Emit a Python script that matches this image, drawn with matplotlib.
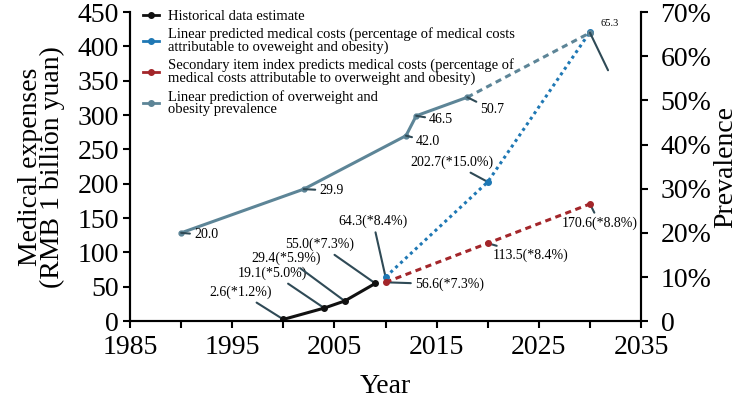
import matplotlib
matplotlib.use("Agg")
import matplotlib.pyplot as plt
from matplotlib.lines import Line2D

plt.rcParams['font.family'] = ['Liberation Serif', 'DejaVu Serif']

# historical estimate (medical costs, RMB 1 billion yuan)
hist_years = [2000, 2004, 2006, 2009]
hist_cost = [2.6, 19.1, 29.4, 55.0]
hist_labels = ["2.6(*1.2%)", "19.1(*5.0%)", "29.4(*5.9%)", "55.0(*7.3%)"]

# linear prediction of medical costs
lin_years = [2010, 2020, 2030]
lin_cost = [64.3, 202.7, 421.0]
lin_labels = ["64.3(*8.4%)", "202.7(*15.0%)", None]

# secondary item index prediction
sec_years = [2010, 2020, 2030]
sec_cost = [56.6, 113.5, 170.6]
sec_labels = ["56.6(*7.3%)", "113.5(*8.4%)", "170.6(*8.8%)"]

# overweight and obesity prevalence (%)
prev_years = [1990, 2002, 2012, 2013, 2018]
prev_vals = [20.0, 29.9, 42.0, 46.5, 50.7]
prev_pred_years = [2018, 2030]
prev_pred_vals = [50.7, 65.3]

c_hist = "#111111"
c_lin = "#1f78b4"
c_sec = "#a3262a"
c_prev = "#5d8597"
c_lead = "#2f4a56"

fig = plt.figure(figsize=(7.56, 4.0), dpi=100)
ax = fig.add_axes([0.172, 0.197, 0.676, 0.773])
ax2 = ax.twinx()

ax.plot(hist_years, hist_cost, color=c_hist, lw=2.2, marker='o', ms=4, zorder=5)
ax.plot(lin_years, lin_cost, color=c_lin, lw=2.2, ls=(0, (1, 1.2)), marker='o', ms=4, zorder=4)
ax.plot(sec_years, sec_cost, color=c_sec, lw=2.2, ls=(0, (2, 1.5)), marker='o', ms=4, zorder=4)

ax2.plot(prev_years, prev_vals, color=c_prev, lw=2.2, marker='o', ms=3.5, zorder=3)
ax2.plot(prev_pred_years, prev_pred_vals, color=c_prev, lw=2.2, ls=(0, (2, 1.5)), zorder=3)
ax2.plot(prev_pred_years[-1:], prev_pred_vals[-1:], color=c_prev, marker='o', ms=4, zorder=3)

ann_kw = dict(textcoords='offset points', fontsize=10, ha='center', va='center',
              arrowprops=dict(arrowstyle='-', color=c_lead, lw=1.5, shrinkA=1, shrinkB=0))

hist_off = [(-31, 19.5), (-37, 25), (-42, 31), (-40, 28)]
for x, y, t, o in zip(hist_years, hist_cost, hist_labels, hist_off):
    ax.annotate(t, (x, y), xytext=o, **ann_kw)

lin_off = [(-9, 40), (-26, 14), None]
for x, y, t, o in zip(lin_years, lin_cost, lin_labels, lin_off):
    if t:
        ax.annotate(t, (x, y), xytext=o, **ann_kw)

sec_off = [(46, -1.5), (31, -9), (7, -14)]
for x, y, t, o in zip(sec_years, sec_cost, sec_labels, sec_off):
    ax.annotate(t, (x, y), xytext=o, **ann_kw)

prev_off = [(18, -1.5), (20, -1), (16, -4), (18, -3), (18, -9)]
for x, y, o in zip(prev_years, prev_vals, prev_off):
    ax2.annotate("%.1f" % y, (x, y), xytext=o, **ann_kw)
ax2.annotate("%.1f" % prev_pred_vals[-1], (prev_pred_years[-1], prev_pred_vals[-1]),
             xytext=(14, 6.5), textcoords='offset points', fontsize=7.5, ha='center', va='center')
ax2.annotate("", (prev_pred_years[-1], prev_pred_vals[-1]), xytext=(13, -27),
             textcoords='offset points',
             arrowprops=dict(arrowstyle='-', color=c_lead, lw=1.5, shrinkA=0, shrinkB=0))

ax.set_xlim(1985, 2035)
ax.set_ylim(0, 450)
ax2.set_ylim(0, 70)
ax.set_xticks(range(1985, 2036, 5))
ax.set_xticklabels([str(y) if (y - 1985) % 10 == 0 else "" for y in range(1985, 2036, 5)])
ax.set_yticks(range(0, 451, 50))
ax2.set_yticks(range(0, 71, 10))
ax2.set_yticklabels(["0"] + ["%d%%" % v for v in range(10, 71, 10)])

for a in (ax, ax2):
    a.spines['top'].set_visible(False)
    for s in a.spines.values():
        s.set_linewidth(1.5)
    a.tick_params(labelsize=20, width=1.5, length=5, direction='out', pad=3)
ax.tick_params(axis='x', pad=5)
ax2.tick_params(axis='y', pad=9)

ax.set_xlabel("Year", fontsize=20, labelpad=10)
ax.set_ylabel("Medical expenses\n(RMB 1 billion yuan)", fontsize=20, labelpad=9, linespacing=0.85)
ax2.set_ylabel("Prevalence", fontsize=20, labelpad=1)

handles = [
    Line2D([], [], color=c_hist, lw=2, marker='o', ms=4),
    Line2D([], [], color=c_lin, lw=2, marker='o', ms=4),
    Line2D([], [], color=c_sec, lw=2, marker='o', ms=4),
    Line2D([], [], color=c_prev, lw=2, marker='o', ms=4),
]
labels = [
    "Historical data estimate",
    "Linear predicted medical costs (percentage of medical costs\nattributable to oveweight and obesity)",
    "Secondary item index predicts medical costs (percentage of\nmedical costs attributable to overweight and obesity)",
    "Linear prediction of overweight and\nobesity prevalence",
]
leg = ax.legend(handles, labels, loc='upper left', bbox_to_anchor=(0.0, 1.05), frameon=False,
                fontsize=10.5, handlelength=1.1, handletextpad=0.6, labelspacing=0.3)
for t in leg.get_texts():
    t.set_linespacing(0.95)

fig.savefig("out.png", dpi=100)
